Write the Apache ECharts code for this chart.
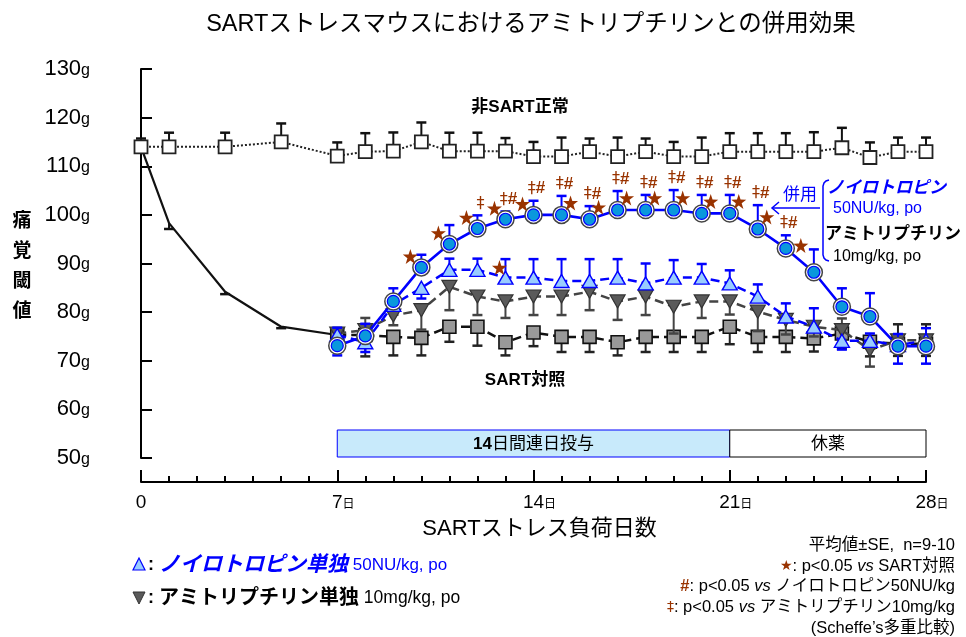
<!DOCTYPE html>
<html><head><meta charset="utf-8">
<script src="https://cdn.jsdelivr.net/npm/echarts@6/dist/echarts.min.js"></script>
<style>html,body{margin:0;padding:0;background:#fff}#c{width:966px;height:637px}</style>
</head><body><div id="c"></div>
<script>
// ---------- DATA ----------
const yTicks = [50, 60, 70, 80, 90, 100, 110, 120, 130];
const xTicks = [0, 7, 14, 21, 28];

// 非SART正常 (white squares, upper SE only)
const normalDays = [0, 1, 3, 5, 7, 8, 9, 10, 11, 12, 13, 14, 15, 16, 17, 18, 19, 20, 21, 22, 23, 24, 25, 26, 27, 28];
const normalVals = [114, 114, 114, 115, 112.1, 113, 113.1, 115, 113.1, 113.1, 113.1, 112, 112, 113, 112, 113, 112, 112, 113, 113, 113, 113, 113.8, 111.8, 113, 113];
const normalSE   = [1.7, 2.9, 2.9, 3.8, 2.8, 3.8, 3.85, 4.0, 3.8, 3.8, 2.7, 3.0, 3.9, 2.7, 3.9, 2.7, 3.0, 3.9, 3.8, 3.8, 3.8, 4.0, 4.1, 3.1, 2.9, 2.9];

// SART stress period (solid black line, days 0-7)
const stressDays = [0, 1, 3, 5, 7];
const stressVals = [114, 98.3, 84.2, 77.0, 75.3];
const stressSE   = [0, 1.2, 0.5, 0.3, 0];

// treatment period days
const trtDays = [7, 8, 9, 10, 11, 12, 13, 14, 15, 16, 17, 18, 19, 20, 21, 22, 23, 24, 25, 26, 27, 28];

// SART対照 (gray squares)
const ctrlVals   = [75.3, 75.3, 74.9, 74.7, 77.0, 77.0, 73.8, 75.8, 74.9, 74.9, 73.8, 74.9, 74.9, 74.9, 77.0, 74.9, 74.9, 74.6, 75.6, 73.9, 73.5, 73.5];
const ctrlSEUp   = [0, 0, 0, 0, 0, 0, 0, 0, 0, 0, 0, 0, 0, 0, 0, 0, 0, 0, 0, 0, 4.0, 4.0];
const ctrlSEDown = [0, 4.4, 3.8, 3.6, 3.1, 3.9, 2.7, 2.8, 3.1, 3.1, 2.7, 3.1, 3.1, 3.1, 3.6, 3.1, 3.1, 2.7, 3.1, 3.0, 2.5, 2.5];

// アミトリプチリン単独 (dark down-triangles)
const amiVals   = [75.6, 76.3, 79.3, 80.4, 85.2, 83.2, 82.2, 83.2, 83.2, 84.2, 82.2, 83.2, 81.1, 82.2, 82.2, 80.1, 78.4, 77.0, 76.3, 72.2, 74.2, 74.2];
const amiSEUp   = [0, 2.5, 0, 0, 0, 0, 0, 0, 0, 0, 0, 0, 0, 0, 0, 0, 0, 0, 2.4, 0, 0, 0];
const amiSEDown = [0, 0, 2.0, 4.0, 4.8, 3.8, 3.4, 3.8, 3.8, 3.8, 3.8, 3.8, 5.5, 3.4, 2.7, 4.0, 3.0, 2.0, 2.0, 3.4, 0, 0];

// ノイロトロピン単独 (light blue triangles)
const neuVals   = [75.3, 73.8, 81.5, 85.0, 88.7, 88.7, 87.1, 87.1, 86.4, 86.4, 87.1, 85.9, 87.1, 87.1, 85.9, 83.2, 79.1, 77.0, 74.1, 74.1, 73.2, 74.2];
const neuSEUp   = [1.5, 0, 0, 0, 2.3, 2.3, 3.8, 3.8, 4.5, 4.5, 3.8, 4.1, 3.6, 2.8, 2.7, 2.5, 2.7, 3.8, 0, 1.5, 2.3, 2.5];
const neuSEDown = [0, 2.0, 0, 2.2, 0, 0, 0, 0, 0, 0, 0, 0, 0, 0, 0, 0, 0, 0, 1.8, 0, 0, 0];

// 併用 (blue circles)
const comboVals   = [73.1, 75.1, 82.2, 89.2, 94.0, 97.2, 99.1, 100.0, 100.0, 99.1, 101.0, 101.0, 101.0, 100.3, 100.3, 97.1, 93.1, 88.2, 81.1, 79.1, 73.0, 73.0];
const comboSEUp   = [0, 2.5, 2.7, 2.6, 3.9, 2.7, 1.6, 2.9, 3.9, 2.7, 3.9, 3.1, 4.1, 3.8, 3.8, 4.9, 2.7, 4.7, 3.8, 4.8, 0, 0];
const comboSEDown = [2.0, 0, 0, 0, 0, 0, 0, 0, 0, 0, 0, 0, 0, 0, 0, 0, 0, 0, 0, 0, 3.6, 3.6];

// significance marks
const starComboDays = [10, 11, 12, 13, 14, 15, 16, 17, 18, 19, 20, 21, 22, 23];
const starNeuDays = [13];
const daggerDays = [12];
const daggerHashDays = [13, 14, 15, 16, 17, 18, 19, 20, 21, 22, 23];

// dosing periods
const periodStart = [7, 21];
const periodEnd = [21, 28];
const periodLabels = ['{b|14}日間連日投与', '休薬'];

// ---------- STYLE / BUILD ----------
const LAT = '"Liberation Sans", Arial, "Noto Sans CJK JP", sans-serif';
const BLUE = '#0000ff';
const BROWN = '#993300';
const STAR = 'path://M50,0 L61.8,35.1 L98.9,35.4 L69.1,57.5 L80.4,93 L50,71.5 L19.6,93 L30.9,57.5 L1.1,35.4 L38.2,35.1 Z';

function pairs(xs, vs) { return xs.map((d, i) => [d, vs[i]]); }
function idx(d) { return trtDays.indexOf(d); }

function errSeries(xs, vals, up, down, color, z) {
  const data = xs.map((d, i) => [d, vals[i], up[i], down[i]]);
  return {
    type: 'custom', z: z, silent: true, data: data, encode: { x: 0, y: 1 },
    renderItem: function (params, api) {
      const x = api.value(0), v = api.value(1), u = api.value(2), dn = api.value(3);
      const c = api.coord([x, v]);
      const ch = [];
      const w = 5;
      [[u, 1], [dn, -1]].forEach(function (p) {
        if (p[0] > 0) {
          const t = api.coord([x, v + p[1] * p[0]]);
          ch.push({ type: 'line', shape: { x1: c[0], y1: c[1], x2: t[0], y2: t[1] }, style: { stroke: color, lineWidth: 2 } });
          ch.push({ type: 'line', shape: { x1: t[0] - w, y1: t[1], x2: t[0] + w, y2: t[1] }, style: { stroke: color, lineWidth: 2.5 } });
        }
      });
      return { type: 'group', children: ch };
    }
  };
}

const series = [];

// period boxes
series.push({
  type: 'custom', z: 1, silent: true,
  data: periodStart.map((s, i) => [s, periodEnd[i], i]),
  encode: { x: [0, 1] },
  renderItem: function (params, api) {
    const a = api.coord([api.value(0), 50])[0];
    const b = api.coord([api.value(1), 50])[0];
    const i = api.value(2);
    const top = 430, h = 27;
    return {
      type: 'group', children: [
        { type: 'rect', shape: { x: a, y: top, width: b - a, height: h },
          style: { fill: i === 0 ? '#c8eafb' : '#ffffff', stroke: i === 0 ? BLUE : '#000', lineWidth: 1 } },
        { type: 'text', style: { x: (a + b) / 2, y: top + h / 2 + 1, text: periodLabels[i], align: 'center', verticalAlign: 'middle',
          font: '17px ' + LAT, fill: '#000', rich: { b: { fontWeight: 'bold', fontSize: 17, fontFamily: LAT } } } }
      ]
    };
  }
});

// normal
series.push(errSeries(normalDays, normalVals, normalSE, normalSE.map(() => 0), '#111', 2));
series.push({
  type: 'line', z: 3, data: pairs(normalDays, normalVals), symbol: 'rect', symbolSize: 13,
  itemStyle: { color: '#fff', borderColor: '#222', borderWidth: 1.8 },
  lineStyle: { color: '#222', width: 2, type: [2, 2] }, silent: true
});

// stress line
series.push(errSeries(stressDays, stressVals, stressDays.map(() => 0), stressSE, '#111', 2));
series.push({
  type: 'line', z: 2, data: pairs(stressDays, stressVals), symbol: 'none',
  lineStyle: { color: '#111', width: 2.2 }, silent: true
});

// control gray squares
series.push(errSeries(trtDays, ctrlVals, ctrlSEUp, ctrlSEDown, '#222', 3));
series.push({
  type: 'line', z: 4, data: pairs(trtDays, ctrlVals), symbol: 'rect', symbolSize: 13,
  itemStyle: { color: '#999999', borderColor: '#111', borderWidth: 1.6 },
  lineStyle: { color: '#111', width: 2.5, type: [9, 5] }, silent: true
});

// amitriptyline dark triangles
series.push(errSeries(trtDays, amiVals, amiSEUp, amiSEDown, '#444', 5));
series.push({
  type: 'line', z: 6, data: pairs(trtDays, amiVals), symbol: 'triangle', symbolRotate: 180, symbolSize: [15, 13],
  itemStyle: { color: '#5a5a5a', borderColor: '#333', borderWidth: 1.2 },
  lineStyle: { color: '#444', width: 2.5, type: [9, 5] }, silent: true
});

// neurotropin triangles
series.push(errSeries(trtDays, neuVals, neuSEUp, neuSEDown, BLUE, 7));
series.push({
  type: 'line', z: 8, data: pairs(trtDays, neuVals), symbol: 'triangle', symbolSize: [15, 13],
  itemStyle: { color: '#99ccff', borderColor: BLUE, borderWidth: 1.4 },
  lineStyle: { color: BLUE, width: 2.5, type: [9, 5] }, silent: true
});

// combo circles
series.push(errSeries(trtDays, comboVals, comboSEUp, comboSEDown, BLUE, 9));
series.push({
  type: 'line', z: 10, data: pairs(trtDays, comboVals), symbol: 'none',
  lineStyle: { color: BLUE, width: 2.6 }, silent: true
});
series.push({
  type: 'scatter', z: 11, data: pairs(trtDays, comboVals), symbol: 'circle', symbolSize: 17,
  itemStyle: { color: '#fff', borderColor: '#444', borderWidth: 1.5, opacity: 1 }, silent: true
});
series.push({
  type: 'scatter', z: 12, data: pairs(trtDays, comboVals), symbol: 'circle', symbolSize: 12,
  itemStyle: { color: '#0a98dc', borderColor: BLUE, borderWidth: 1.2, opacity: 1 }, silent: true
});

// stars
const starData = starComboDays.map(function (d) {
  const off = d < 15 ? [-11, -11] : (d === 23 ? [15, -3] : [9, -12]);
  return { value: [d, comboVals[idx(d)]], symbolOffset: off };
}).concat(starNeuDays.map(function (d) {
  return { value: [d, neuVals[idx(d)]], symbolOffset: [-6, -10] };
}));
series.push({
  type: 'scatter', z: 13, data: starData, symbol: STAR, symbolSize: 15,
  itemStyle: { color: BROWN, opacity: 1 }, silent: true
});

// dagger / hash marks
const markData = daggerDays.map(d => [d, comboVals[idx(d)] + comboSEUp[idx(d)], 0])
  .concat(daggerHashDays.map(d => [d, comboVals[idx(d)] + comboSEUp[idx(d)], 1]));
series.push({
  type: 'custom', z: 13, silent: true, data: markData, encode: { x: 0, y: 1 },
  renderItem: function (params, api) {
    const c = api.coord([api.value(0), api.value(1)]);
    const t = api.value(2) === 1 ? '{d|‡}{h|#}' : '{d|‡}';
    return { type: 'text', style: { x: c[0] + 3, y: c[1] - 12, text: t, align: 'center', verticalAlign: 'middle',
      fill: BROWN, rich: { d: { fontSize: 16, fontFamily: '"DejaVu Sans", sans-serif', fill: BROWN },
        h: { fontSize: 17, fontWeight: 'bold', fontFamily: LAT, fill: BROWN } } } };
  }
});

function T(x, y, text, opt) {
  opt = opt || {};
  const st = { text: text, align: opt.align || 'left', verticalAlign: 'middle',
      textAlign: opt.align || 'left', textVerticalAlign: 'middle',
      font: opt.font || ('16px ' + LAT), fill: opt.fill || '#000' };
  if (opt.rich) st.rich = opt.rich;
  if (opt.lineHeight) st.lineHeight = opt.lineHeight;
  return { type: 'text', x: x, y: y, z: 20, silent: true, style: st };
}

const NS = 16.5;
const noteRich = {
  s: { fill: BROWN, fontSize: 14, fontFamily: '"DejaVu Sans", sans-serif' },
  h: { fill: BROWN, fontWeight: 'bold', fontSize: NS, fontFamily: LAT },
  i: { fontStyle: 'italic', fontSize: NS, fontFamily: LAT }
};

const graphics = [
  T(531, 25, 'SARTストレスマウスにおけるアミトリプチリンとの併用効果', { align: 'center', font: '23.5px ' + LAT }),
  T(22, 267, '痛\n覚\n閾\n値', { align: 'center', font: 'bold 19px ' + LAT, lineHeight: 30 }),
  T(520, 107, '非SART正常', { align: 'center', font: 'bold 17px ' + LAT }),
  T(525, 380, 'SART対照', { align: 'center', font: 'bold 17px ' + LAT }),
  // right annotation
  T(800, 195, '併用', { align: 'center', font: '17px ' + LAT, fill: BLUE }),
  T(827, 188, 'ノイロトロピン', { font: 'italic bold 17px ' + LAT, fill: BLUE }),
  T(833, 209, '50NU/kg, po', { font: '16px ' + LAT, fill: BLUE }),
  T(825, 234, 'アミトリプチリン', { font: 'bold 17px ' + LAT }),
  T(833, 257, '10mg/kg, po', { font: '16px ' + LAT }),
  { type: 'polyline', z: 20, silent: true,
    shape: { points: [[829, 180], [826, 181], [824, 183], [823, 186], [823, 255], [824, 258], [826, 260], [829, 261]] },
    style: { stroke: BLUE, fill: null, lineWidth: 1.5 } },
  { type: 'polyline', z: 20, silent: true, shape: { points: [[820, 208], [772, 208]] }, style: { stroke: BLUE, lineWidth: 1.5, fill: null } },
  { type: 'polyline', z: 20, silent: true, shape: { points: [[779, 202], [772, 208], [779, 214]] }, style: { stroke: BLUE, lineWidth: 1.5, fill: null } },
  // bottom legend
  { type: 'polygon', z: 20, silent: true, shape: { points: [[139, 558], [133, 570], [145, 570]] }, style: { fill: '#99ccff', stroke: BLUE, lineWidth: 1.2 } },
  T(148, 565, '{k|: }{b|ノイロトロピン単独}{n| 50NU/kg, po}', { font: '17px ' + LAT, rich: {
    k: { fontWeight: 'bold', fontSize: 18, fontFamily: LAT, fill: '#000' },
    b: { fontWeight: 'bold', fontStyle: 'italic', fontSize: 21, fontFamily: LAT, fill: BLUE },
    n: { fontSize: 17, fontFamily: LAT, fill: BLUE } } }),
  { type: 'polygon', z: 20, silent: true, shape: { points: [[133, 592], [145, 592], [139, 604]] }, style: { fill: '#5a5a5a', stroke: '#333', lineWidth: 1 } },
  T(148, 598, '{k|: }{b|アミトリプチリン単独}{n| 10mg/kg, po}', { font: '17px ' + LAT, rich: {
    k: { fontWeight: 'bold', fontSize: 18, fontFamily: LAT, fill: '#000' },
    b: { fontWeight: 'bold', fontSize: 20, fontFamily: LAT, fill: '#000' },
    n: { fontSize: 17.5, fontFamily: LAT, fill: '#000' } } }),
  // notes
  T(955, 545, '平均値±SE,  n=9-10', { align: 'right', font: NS + 'px ' + LAT }),
  T(955, 566, '{s|★}: p<0.05 {i|vs} SART対照', { align: 'right', font: NS + 'px ' + LAT, rich: noteRich }),
  T(955, 586, '{h|#}: p<0.05 {i|vs} ノイロトロピン50NU/kg', { align: 'right', font: NS + 'px ' + LAT, rich: noteRich }),
  T(955, 607, '{s|‡}: p<0.05 {i|vs} アミトリプチリン10mg/kg', { align: 'right', font: NS + 'px ' + LAT, rich: noteRich }),
  T(955, 628, '(Scheffe’s多重比較)', { align: 'right', font: NS + 'px ' + LAT })
];

const chart = echarts.init(document.getElementById('c'), null, { renderer: 'canvas' });
chart.setOption({
  animation: false,
  backgroundColor: '#fff',
  grid: { left: 141, right: 40, top: 69, bottom: 179 },
  xAxis: {
    type: 'value', min: xTicks[0], max: xTicks[xTicks.length - 1], interval: 7, offset: 24,
    axisLine: { show: true, lineStyle: { color: '#000', width: 2 } },
    axisTick: { show: true, inside: true, length: 12, lineStyle: { color: '#000', width: 2 } },
    minorTick: { show: true, splitNumber: 7, length: 6, lineStyle: { color: '#000', width: 2 } },
    splitLine: { show: false },
    axisLabel: {
      margin: 11, color: '#000',
      formatter: function (v) { return v === 0 ? '{z|0}' : '{n|' + v + '}{d|日}'; },
      rich: {
        z: { fontSize: 19, fontFamily: LAT, color: '#000' },
        n: { fontSize: 19, fontFamily: LAT, color: '#000', padding: [0, 0, 0, 12] },
        d: { fontSize: 12, fontFamily: LAT, color: '#000', padding: [4, 0, 0, 0] }
      }
    },
    name: 'SARTストレス負荷日数', nameLocation: 'middle', nameGap: 36,
    nameTextStyle: { fontSize: 22, fontFamily: LAT, color: '#000', padding: [0, 0, 0, 12] }
  },
  yAxis: {
    type: 'value', min: yTicks[0], max: yTicks[yTicks.length - 1], interval: 10, offset: 39,
    axisLine: { show: true, lineStyle: { color: '#000', width: 2 } },
    axisTick: { show: true, inside: true, length: 11, lineStyle: { color: '#000', width: 2 } },
    splitLine: { show: false },
    axisLabel: {
      margin: 12, color: '#000',
      formatter: function (v) { return '{n|' + v + '}{g|g}'; },
      rich: {
        n: { fontSize: 22, fontFamily: LAT, color: '#000' },
        g: { fontSize: 16, fontFamily: LAT, color: '#000', padding: [3, 0, 0, 0] }
      }
    }
  },
  series: series,
  graphic: graphics
});
</script>
</body></html>
